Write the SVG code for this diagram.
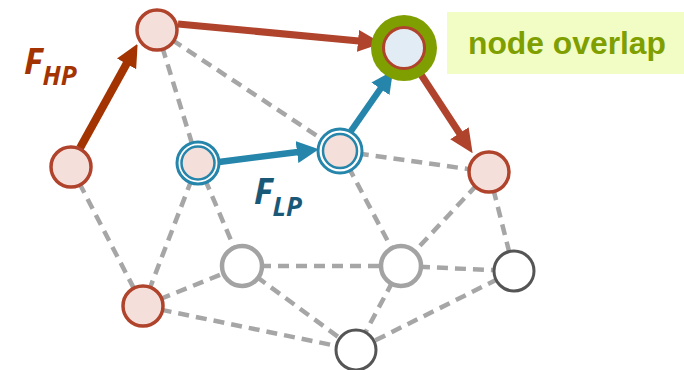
<svg xmlns="http://www.w3.org/2000/svg" width="684" height="370" viewBox="0 0 684 370">
<style>
.edge{stroke:#a6a6a6;stroke-width:4.5;stroke-dasharray:11 7;fill:none}
.red{fill:#f5dfdb;stroke:#b0432b;stroke-width:3.5}
.gray{fill:#fff;stroke:#a3a3a3;stroke-width:4.5}
.dark{fill:#fff;stroke:#555;stroke-width:3}
.ring{fill:#fff;stroke:#2585ab;stroke-width:3}
.inner{fill:#f5dfdb;stroke:#2585ab;stroke-width:2.5}
.arrow{fill:none;stroke-linecap:butt}
.lbl{font-family:"Open Sans","Liberation Sans",sans-serif;font-weight:bold;font-style:italic}
</style>
<defs>
<marker id="hDark" viewBox="0 0 22 22" refX="1" refY="11" markerWidth="22" markerHeight="22" markerUnits="userSpaceOnUse" orient="auto"><path d="M0,0 L23,11 L0,22 z" fill="#a33300"/></marker>
<marker id="hRed" viewBox="0 0 24 22" refX="1" refY="11" markerWidth="24" markerHeight="22" markerUnits="userSpaceOnUse" orient="auto"><path d="M0,0 L24,11 L0,22 z" fill="#b0432b"/></marker>
<marker id="hBlue" viewBox="0 0 22 22" refX="1" refY="11" markerWidth="22" markerHeight="22" markerUnits="userSpaceOnUse" orient="auto"><path d="M0,0 L22,11 L0,22 z" fill="#2585ab"/></marker>
</defs>
<rect x="447" y="12" width="237" height="62" fill="#f2fdc5"/>
<text x="567" y="54" text-anchor="middle" font-family="'Liberation Sans',Arial,sans-serif" font-weight="bold" font-size="32" fill="#7f9f00" textLength="198" lengthAdjust="spacingAndGlyphs">node overlap</text>
<g id="connectors">
<line class="edge" x1="157" y1="30" x2="198" y2="163"/>
<line class="edge" x1="157" y1="30" x2="340" y2="151"/>
<line class="edge" x1="71" y1="167" x2="143" y2="306"/>
<line class="edge" x1="198" y1="163" x2="143" y2="306"/>
<line class="edge" x1="198" y1="163" x2="242" y2="266"/>
<line class="edge" x1="143" y1="306" x2="242" y2="266"/>
<line class="edge" x1="143" y1="306" x2="356" y2="350"/>
<line class="edge" x1="242" y1="266" x2="401" y2="266"/>
<line class="edge" x1="242" y1="266" x2="356" y2="350"/>
<line class="edge" x1="340" y1="151" x2="489" y2="172"/>
<line class="edge" x1="340" y1="151" x2="401" y2="266"/>
<line class="edge" x1="489" y1="172" x2="401" y2="266"/>
<line class="edge" x1="489" y1="172" x2="514" y2="271"/>
<line class="edge" x1="401" y1="266" x2="514" y2="271"/>
<line class="edge" x1="401" y1="266" x2="356" y2="350"/>
<line class="edge" x1="514" y1="271" x2="356" y2="350"/>
<line class="arrow" x1="80" y1="148" x2="127" y2="63" stroke="#a33300" stroke-width="8" marker-end="url(#hDark)"/>
<line class="arrow" x1="178" y1="24" x2="359" y2="41" stroke="#b0432b" stroke-width="7" marker-end="url(#hRed)"/>
<line class="arrow" x1="219" y1="162" x2="298" y2="152" stroke="#2585ab" stroke-width="6.5" marker-end="url(#hBlue)"/>
<line class="arrow" x1="351" y1="131" x2="381" y2="88" stroke="#2585ab" stroke-width="6.5" marker-end="url(#hBlue)"/>
<line class="arrow" x1="418" y1="70" x2="460" y2="134" stroke="#b0432b" stroke-width="7" marker-end="url(#hRed)"/>
</g>
<g id="nodeA"><circle class="red" cx="157" cy="30" r="20"/></g>
<g id="nodeB"><circle class="red" cx="71" cy="167" r="20"/></g>
<g id="nodeC"><circle class="ring" cx="198" cy="163" r="21"/><circle class="inner" cx="198" cy="163" r="16.5"/></g>
<g id="nodeD"><circle cx="404" cy="48" r="33" fill="#7f9f00"/><circle cx="404" cy="48" r="20.5" fill="#e2ecf5" stroke="#b0432b" stroke-width="3"/></g>
<g id="nodeE"><circle class="ring" cx="340" cy="151" r="22"/><circle class="inner" cx="340" cy="151" r="17"/></g>
<g id="nodeF"><circle class="red" cx="489" cy="172" r="20"/></g>
<g id="nodeG"><circle class="gray" cx="242" cy="266" r="20"/></g>
<g id="nodeH"><circle class="red" cx="143" cy="306" r="20"/></g>
<g id="nodeI"><circle class="gray" cx="401" cy="266" r="20"/></g>
<g id="nodeJ"><circle class="dark" cx="514" cy="271" r="20"/></g>
<g id="nodeK"><circle class="dark" cx="356" cy="350" r="20"/></g>
<text class="lbl" x="24" y="74" font-size="35" fill="#a33300">F<tspan font-size="26" dy="11">HP</tspan></text>
<text class="lbl" x="254" y="204" font-size="35" fill="#1a5878">F<tspan font-size="26" dy="12">LP</tspan></text>
</svg>
